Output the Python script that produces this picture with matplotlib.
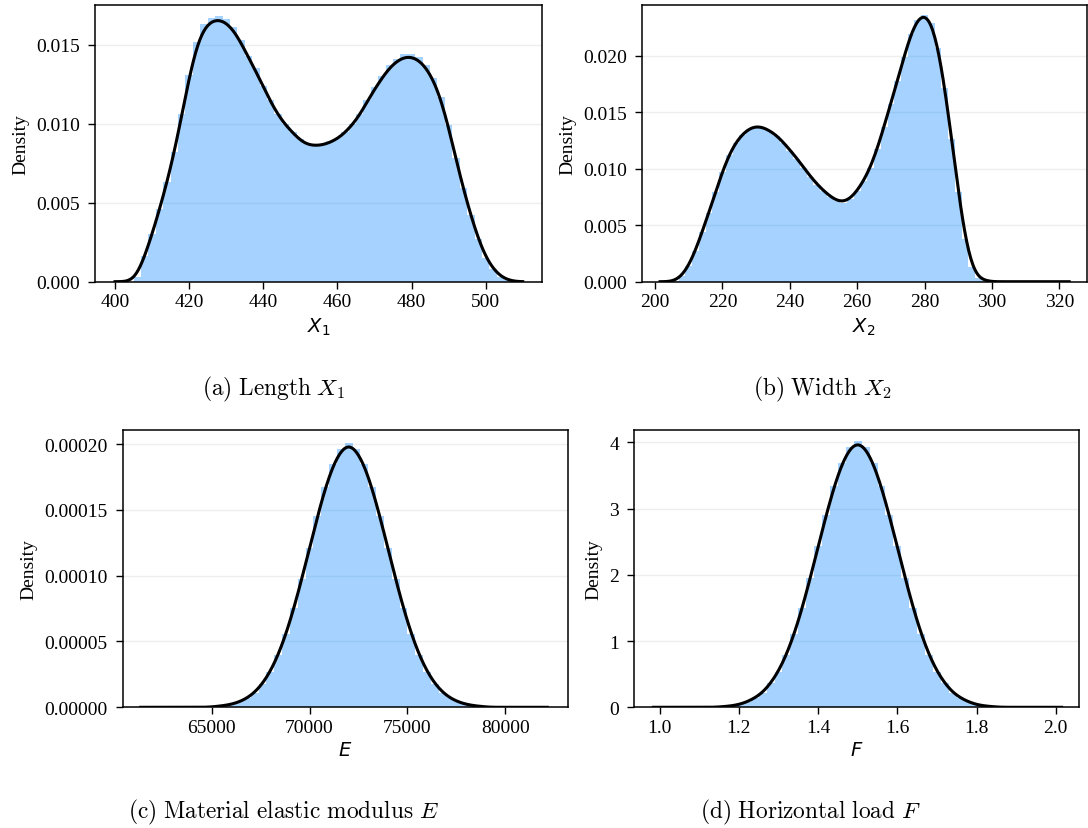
import numpy as np
import matplotlib
matplotlib.use("Agg")
import matplotlib.pyplot as plt
from matplotlib.ticker import FormatStrFormatter
import seaborn as sns

plt.rcParams['font.family'] = ['Liberation Serif', 'DejaVu Serif']
plt.rcParams['mathtext.fontset'] = 'dejavusans'

# ---------------- DATA ----------------
# (a) length X1 : bin centres / density
x1_centers = np.arange(404, 507, 2)
x1_dens = [0.0000, 0.0003, 0.0016, 0.0030, 0.0046, 0.0063, 0.0082, 0.0106,
           0.0131, 0.0152, 0.0163, 0.0167, 0.0168, 0.0166, 0.0161, 0.0153,
           0.0143, 0.0135, 0.0124, 0.0115, 0.0106, 0.0100, 0.0095, 0.0090,
           0.0087, 0.0087, 0.0087, 0.0089, 0.0091, 0.0095, 0.0100, 0.0106,
           0.0115, 0.0123, 0.0130, 0.0137, 0.0141, 0.0144, 0.0144, 0.0142,
           0.0137, 0.0129, 0.0117, 0.0099, 0.0078, 0.0059, 0.0042, 0.0027,
           0.0015, 0.0008, 0.0003, 0.0001]

# (b) width X2
x2_centers = np.arange(204, 301, 2)
x2_dens = [0.0000, 0.0001, 0.0005, 0.0014, 0.0027, 0.0044, 0.0061, 0.0079,
           0.0097, 0.0112, 0.0123, 0.0130, 0.0135, 0.0137, 0.0136, 0.0133,
           0.0129, 0.0123, 0.0116, 0.0109, 0.0101, 0.0093, 0.0086, 0.0080,
           0.0075, 0.0071, 0.0070, 0.0073, 0.0080, 0.0089, 0.0101, 0.0117,
           0.0137, 0.0157, 0.0178, 0.0199, 0.0219, 0.0232, 0.0236, 0.0229,
           0.0207, 0.0171, 0.0126, 0.0079, 0.0038, 0.0013, 0.0003, 0.0001,
           0.0000]

# (c) elastic modulus E
e_centers = np.arange(65200, 78801, 400)
e_dens = [0.0000006, 0.0000012, 0.0000022, 0.0000040, 0.0000068, 0.0000112,
          0.0000178, 0.0000271, 0.0000396, 0.0000556, 0.0000751, 0.0000974,
          0.0001213, 0.0001452, 0.0001671, 0.0001846, 0.0001960, 0.0002010,
          0.0001960, 0.0001846, 0.0001671, 0.0001452, 0.0001213, 0.0000974,
          0.0000751, 0.0000556, 0.0000396, 0.0000271, 0.0000178, 0.0000112,
          0.0000068, 0.0000040, 0.0000022, 0.0000012, 0.0000006]

# (d) horizontal load F
f_centers = np.round(np.arange(1.16, 1.841, 0.02), 2)
f_dens = [0.01, 0.02, 0.04, 0.08, 0.14, 0.22, 0.36, 0.54, 0.79, 1.11, 1.50,
          1.95, 2.43, 2.90, 3.34, 3.69, 3.93, 4.02, 3.93, 3.69, 3.34, 2.90,
          2.43, 1.95, 1.50, 1.11, 0.79, 0.54, 0.36, 0.22, 0.14, 0.08, 0.04,
          0.02, 0.01]

captions = [r"$\mathrm{(a)\ Length}\ X_1$",
            r"$\mathrm{(b)\ Width}\ X_2$",
            r"$\mathrm{(c)\ Material\ elastic\ modulus}\ E$",
            r"$\mathrm{(d)\ Horizontal\ load}\ F$"]

W, H = 1088, 829
BAR_FACE = (30 / 255, 144 / 255, 1.0, 0.4)


def px_axes(left, right, top, bottom):
    return [left / W, 1 - bottom / H, (right - left) / W, (bottom - top) / H]


def panel(ax, centers, dens, width, sigma, clip, xlim, ylim,
          xticks, yticks, yfmt, xlabel):
    centers = np.asarray(centers, float)
    dens = np.asarray(dens, float)
    ax.bar(centers, dens, width=width, color=BAR_FACE, edgecolor="none",
           linewidth=0, zorder=2)
    std = np.sqrt(np.cov(centers, aweights=dens))
    sns.kdeplot(x=centers, weights=dens, bw_method=sigma / std, cut=50,
                clip=clip, gridsize=400, color="black", lw=2.2, ax=ax,
                zorder=3)
    ax.set_xlim(*xlim)
    ax.set_ylim(*ylim)
    ax.set_xticks(xticks)
    ax.set_yticks(yticks)
    ax.yaxis.set_major_formatter(FormatStrFormatter(yfmt))
    ax.grid(axis="y", color="#eeeeee", lw=1.0, zorder=0)
    ax.set_axisbelow(True)
    for s in ax.spines.values():
        s.set_linewidth(1.1)
        s.set_color("black")
    ax.tick_params(direction="out", length=4.7, width=1.0, labelsize=14,
                   colors="black")
    ax.tick_params(axis="y", pad=6)
    ax.set_xlabel(xlabel, fontsize=14)
    ax.set_ylabel("Density", fontsize=14, labelpad=5)


fig = plt.figure(figsize=(W / 100, H / 100), dpi=100)

ax_a = fig.add_axes(px_axes(95, 542, 5.7, 282.7))
panel(ax_a, x1_centers, x1_dens, 2.0, 1.8, (400, 510), (394.6, 515.2),
      (0, 0.01753), np.arange(400, 501, 20), [0, 0.005, 0.010, 0.015],
      "%.3f", r"$X_1$")

ax_b = fig.add_axes(px_axes(641.7, 1086.7, 5.7, 282.7))
panel(ax_b, x2_centers, x2_dens, 2.0, 1.6, (201.5, 322.9), (196.05, 328.1),
      (0, 0.02451), np.arange(200, 321, 20),
      [0, 0.005, 0.010, 0.015, 0.020], "%.3f", r"$X_2$")

ax_c = fig.add_axes(px_axes(122.7, 568, 431, 708.3))
panel(ax_c, e_centers, e_dens, 400, 300, (61378, 82143), (60459, 83200),
      (0, 0.0002107), [65000, 70000, 75000, 80000],
      [0, 0.00005, 0.00010, 0.00015, 0.00020], "%.5f", r"$E$")

ax_d = fig.add_axes(px_axes(634, 1079.3, 431, 708.3))
panel(ax_d, f_centers, f_dens, 0.02, 0.015, (0.984, 2.015), (0.935, 2.0596),
      (0, 4.186), [1.0, 1.2, 1.4, 1.6, 1.8, 2.0], [0, 1, 2, 3, 4],
      "%d", r"$F$")
ax_d.xaxis.set_major_formatter(FormatStrFormatter("%.1f"))

cap_pos = [(274, 389), (822, 389), (283, 812), (810, 812)]
for (cx, cy), txt in zip(cap_pos, captions):
    fig.text(cx / W, 1 - cy / H, txt, ha="center", va="center",
             fontsize=16.8, math_fontfamily="cm")

fig.savefig("out.png", dpi=100)
